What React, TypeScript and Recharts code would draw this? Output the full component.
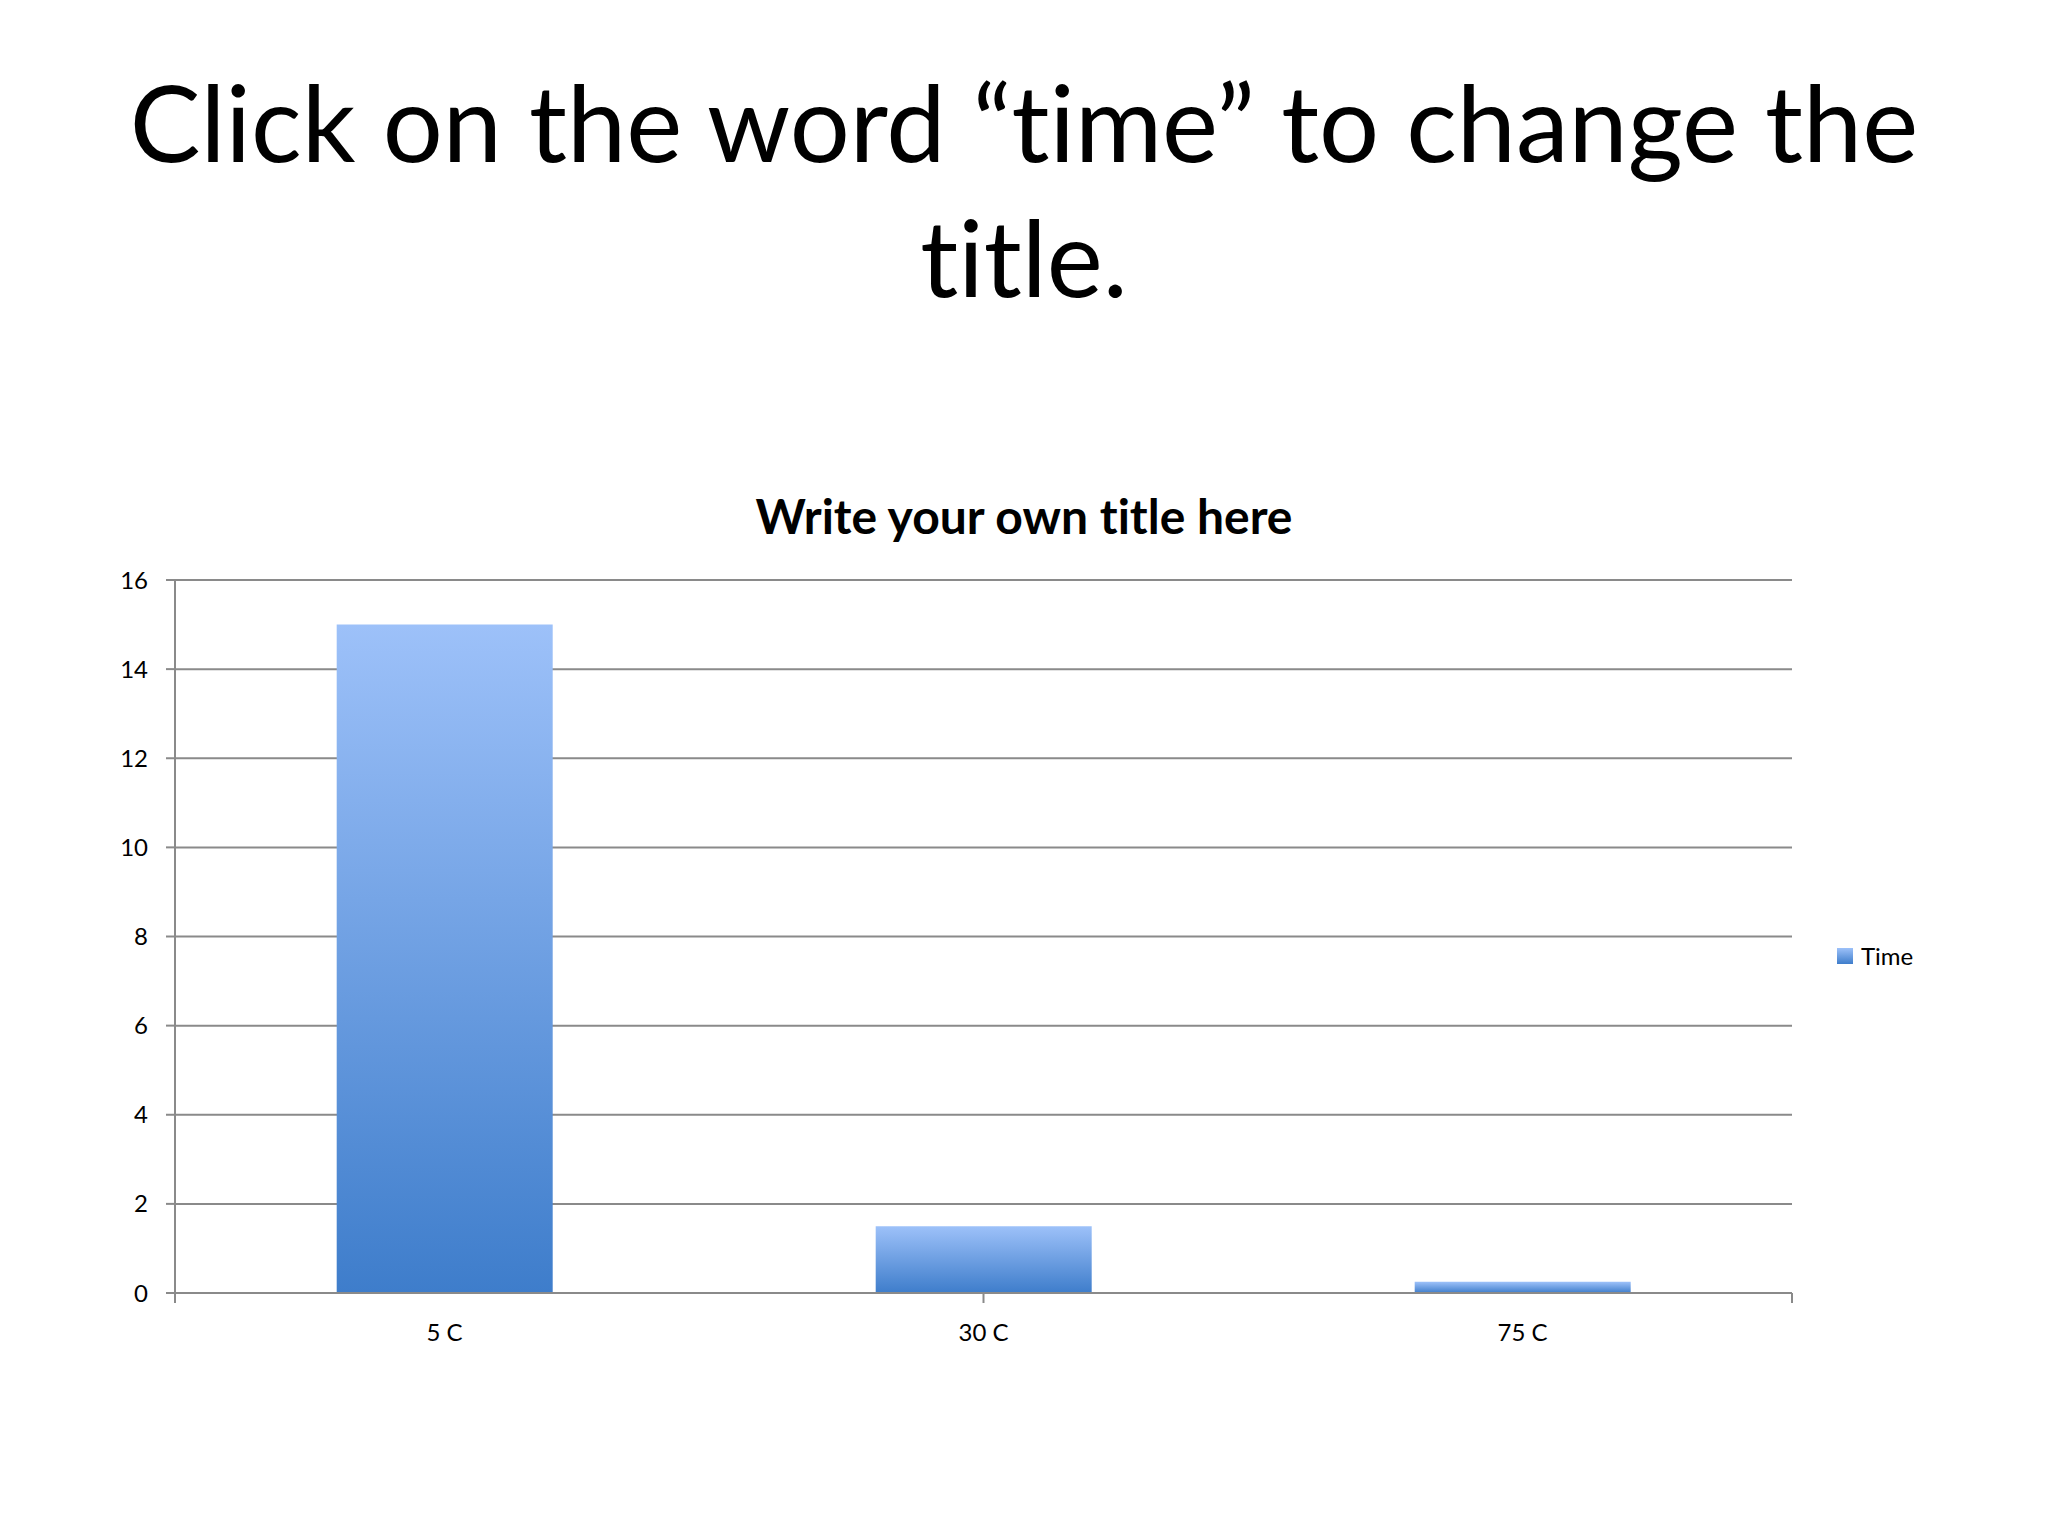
import React from 'react';
import { BarChart, Bar, XAxis, YAxis, CartesianGrid } from 'recharts';

const categories = ['5 C', '30 C', '75 C'];
const timeValues = [15, 1.5, 0.25];
const yTicks = [0, 2, 4, 6, 8, 10, 12, 14, 16];
const edgeTicks = [0, 1, 2, 3];

const data = categories.map((name, i) => ({ name, time: timeValues[i] }));

const FONT = 'Lato, "Open Sans", sans-serif';
const GRAY = '#8a8a8a';

const App: React.FC = () => {
  return (
    <div
      style={{
        position: 'absolute',
        left: 0,
        top: 0,
        width: 2048,
        height: 1536,
        background: '#fff',
        fontFamily: FONT,
        fontVariantLigatures: 'none',
        overflow: 'hidden',
      }}
    >
      <div
        style={{
          position: 'absolute',
          left: 0,
          top: 54,
          width: 2048,
          textAlign: 'center',
          fontSize: 106,
          lineHeight: '135px',
          color: '#000',
        }}
      >
        Click on the word “time” to change the
        <br />
        title.
      </div>

      <div
        style={{
          position: 'absolute',
          left: 0,
          top: 487,
          width: 2048,
          textAlign: 'center',
          fontSize: 48,
          fontWeight: 700,
          color: '#000',
        }}
      >
        Write your own title here
      </div>

      <div style={{ position: 'absolute', left: 0, top: 0 }}>
        <BarChart
          width={2048}
          height={1536}
          data={data}
          margin={{ top: 580, right: 256, bottom: 183, left: 115 }}
          barCategoryGap="30%"
        >
          <defs>
            <linearGradient id="barFill" x1="0" y1="0" x2="0" y2="1">
              <stop offset="0%" stopColor="#9dc1f9" />
              <stop offset="100%" stopColor="#3e7dcb" />
            </linearGradient>
          </defs>
          <CartesianGrid vertical={false} stroke={GRAY} strokeWidth={2} />
          {/* boundary ticks between categories, drawn on the zero line */}
          <XAxis
            xAxisId={0}
            type="number"
            domain={[0, 3]}
            ticks={edgeTicks}
            interval={0}
            tickFormatter={() => ''}
            height={1}
            axisLine={{ stroke: GRAY, strokeWidth: 2 }}
            tickLine={{ stroke: GRAY, strokeWidth: 2 }}
            tickSize={10}
          />
          <XAxis
            xAxisId={1}
            dataKey="name"
            height={59}
            axisLine={false}
            tickLine={false}
            tickMargin={24}
            tick={{ fontSize: 24, fill: '#000', fontFamily: FONT }}
          />
          <YAxis
            domain={[0, 16]}
            ticks={yTicks}
            width={60}
            interval={0}
            axisLine={{ stroke: GRAY, strokeWidth: 2 }}
            tickLine={{ stroke: GRAY, strokeWidth: 2 }}
            tickSize={9}
            tickMargin={18}
            tick={{ fontSize: 24, fill: '#000', fontFamily: FONT }}
          />
          <Bar
            xAxisId={1}
            dataKey="time"
            name="Time"
            fill="url(#barFill)"
            isAnimationActive={false}
          />
        </BarChart>
      </div>

      <div
        style={{
          position: 'absolute',
          left: 1837,
          top: 941,
          display: 'flex',
          alignItems: 'center',
          fontSize: 24,
          color: '#000',
        }}
      >
        <span
          style={{
            display: 'inline-block',
            width: 16,
            height: 16,
            marginRight: 8,
            background: 'linear-gradient(#9dc1f9, #3e7dcb)',
          }}
        />
        Time
      </div>
    </div>
  );
};

export default App;
